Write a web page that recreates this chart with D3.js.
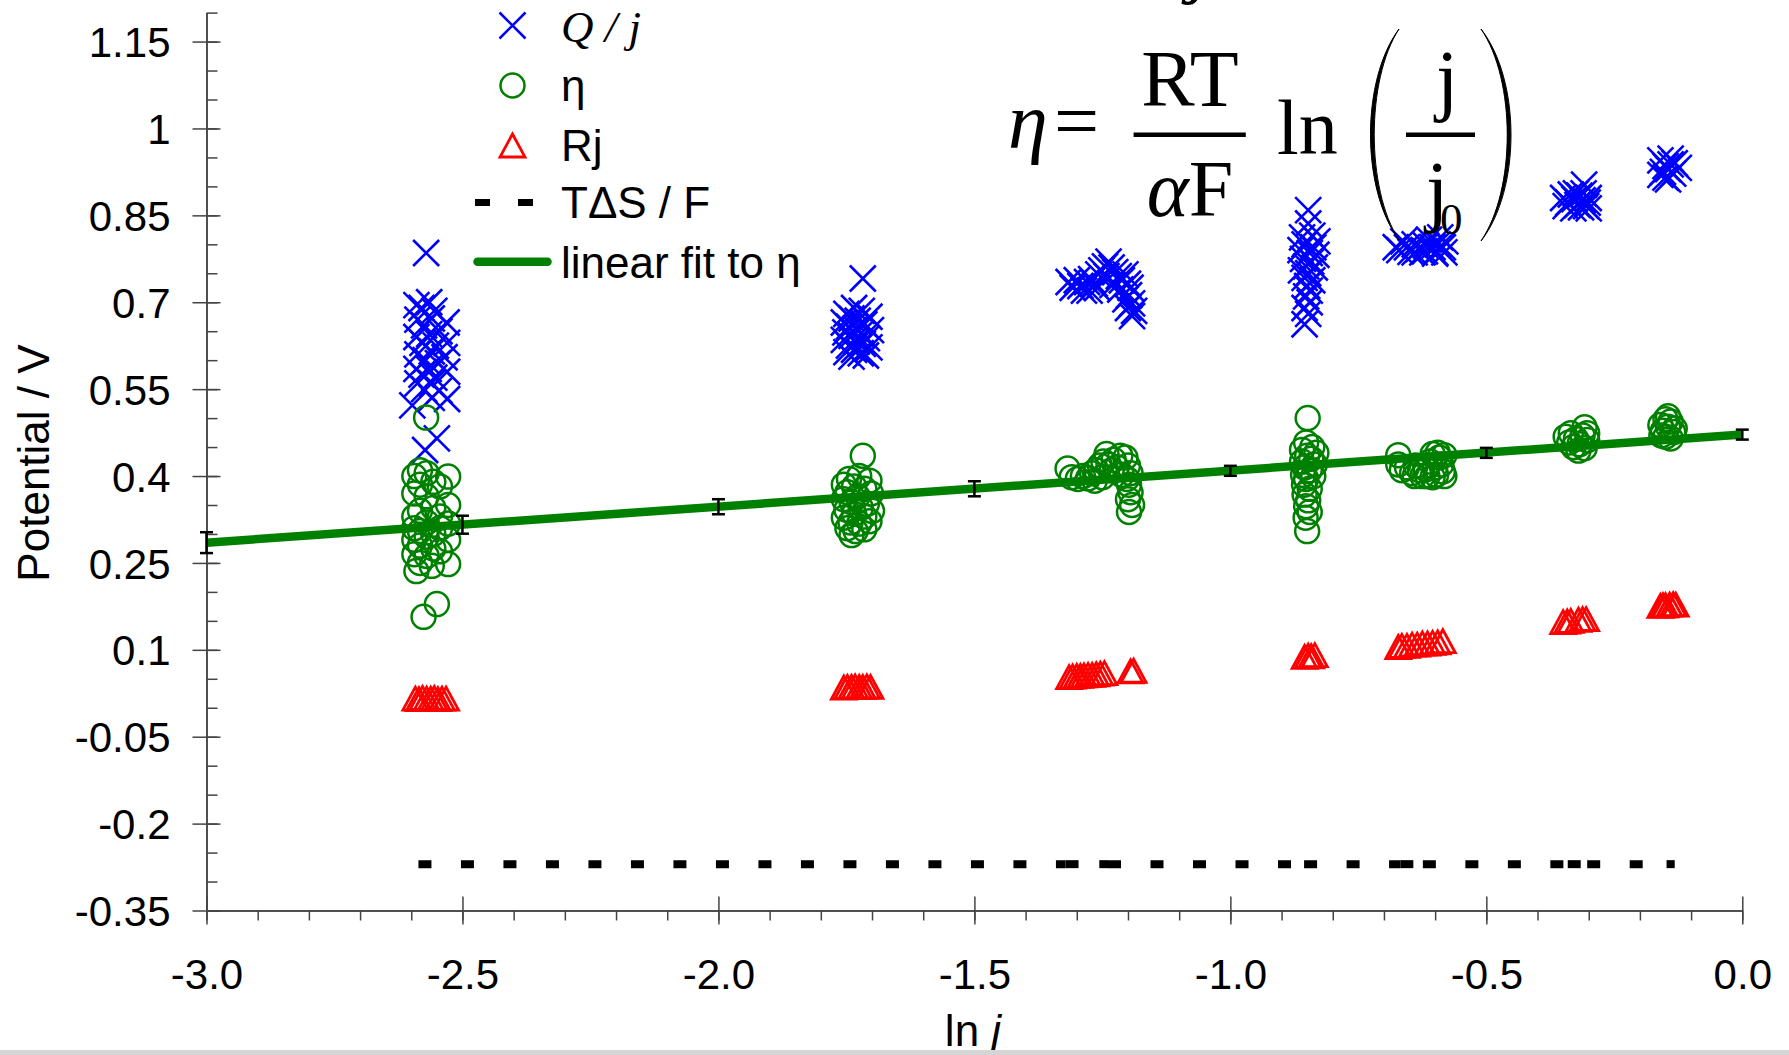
<!DOCTYPE html>
<html>
<head>
<meta charset="utf-8">
<script src="https://d3js.org/d3.v7.min.js"></script>
<style>
    body { margin: 0; background: #fff; }
    svg { display: block; }
    .axis text { font-family: 'Liberation Sans', Arial, sans-serif; font-size: 42px; fill: #000; }
    .axis line, .axis path { stroke: #444; stroke-width: 1.5; }
    .lbl { font-family: 'Liberation Sans', Arial, sans-serif; font-size: 44px; fill: #000; }
    .eq { font-family: 'Liberation Serif', 'Times New Roman', serif; fill: #000; }
</style>
</head>
<body>
<div id="chart"></div>
<script>
// ---- data ----
const xMajor = [-3, -2.5, -2, -1.5, -1, -0.5, 0];
const yMajor = [-0.35, -0.2, -0.05, 0.1, 0.25, 0.4, 0.55, 0.7, 0.85, 1, 1.15];

// Q / j  (blue crosses)
const qjPoints = [
    [-2.571,0.785],[-2.590,0.695],[-2.580,0.690],[-2.565,0.700],[-2.555,0.685],[-2.531,0.665],
    [-2.588,0.670],[-2.575,0.660],[-2.560,0.672],[-2.545,0.650],
    [-2.590,0.640],[-2.578,0.630],[-2.565,0.645],[-2.552,0.625],[-2.530,0.630],
    [-2.588,0.610],[-2.572,0.600],[-2.560,0.615],[-2.548,0.595],[-2.535,0.605],
    [-2.590,0.585],[-2.580,0.575],[-2.566,0.585],[-2.555,0.570],[-2.530,0.580],
    [-2.588,0.560],[-2.575,0.550],[-2.560,0.560],[-2.545,0.548],
    [-2.598,0.522],[-2.560,0.535],[-2.530,0.533],[-2.550,0.465],[-2.573,0.445],

    [-1.718,0.741],[-1.735,0.690],[-1.720,0.685],[-1.750,0.680],[-1.705,0.675],[-1.740,0.672],
    [-1.728,0.668],[-1.755,0.665],[-1.715,0.662],[-1.745,0.658],[-1.732,0.655],[-1.702,0.652],
    [-1.752,0.648],[-1.722,0.646],[-1.740,0.642],[-1.710,0.638],[-1.755,0.635],[-1.730,0.632],
    [-1.718,0.628],[-1.745,0.625],[-1.705,0.622],[-1.735,0.618],[-1.750,0.614],[-1.722,0.612],
    [-1.740,0.606],[-1.712,0.608],

    [-1.316,0.735],[-1.308,0.725],[-1.300,0.738],[-1.293,0.728],[-1.286,0.720],[-1.280,0.735],
    [-1.272,0.740],[-1.265,0.732],[-1.258,0.748],[-1.252,0.755],[-1.245,0.762],[-1.238,0.770],
    [-1.242,0.745],[-1.232,0.760],[-1.225,0.752],[-1.218,0.745],[-1.212,0.738],[-1.205,0.748],
    [-1.200,0.732],[-1.215,0.722],[-1.195,0.725],[-1.198,0.712],[-1.205,0.705],[-1.192,0.698],
    [-1.200,0.690],[-1.188,0.685],[-1.192,0.676],[-1.260,0.725],[-1.275,0.720],[-1.230,0.730],

    [-0.848,0.859],[-0.848,0.836],[-0.860,0.812],[-0.840,0.815],[-0.830,0.805],[-0.855,0.800],
    [-0.838,0.795],[-0.863,0.790],[-0.845,0.785],[-0.832,0.782],[-0.858,0.775],[-0.842,0.770],
    [-0.852,0.762],[-0.835,0.760],[-0.862,0.755],[-0.848,0.750],[-0.855,0.742],[-0.840,0.738],
    [-0.850,0.728],[-0.845,0.720],[-0.852,0.710],[-0.845,0.700],[-0.855,0.690],[-0.848,0.680],
    [-0.855,0.662],

    [-0.677,0.795],[-0.670,0.790],[-0.662,0.805],[-0.655,0.795],[-0.648,0.787],[-0.640,0.800],
    [-0.632,0.792],[-0.625,0.786],[-0.618,0.798],[-0.612,0.808],[-0.605,0.795],[-0.600,0.786],
    [-0.595,0.800],[-0.590,0.812],[-0.585,0.795],[-0.582,0.786],[-0.580,0.805],[-0.640,0.786],
    [-0.620,0.788],[-0.600,0.784],

    [-0.309,0.903],[-0.350,0.880],[-0.340,0.872],[-0.335,0.886],[-0.328,0.878],[-0.322,0.868],
    [-0.318,0.884],[-0.312,0.876],[-0.305,0.866],[-0.300,0.880],[-0.302,0.872],[-0.345,0.866],
    [-0.330,0.862],[-0.315,0.864],[-0.300,0.862],[-0.325,0.888],[-0.310,0.888],

    [-0.160,0.945],[-0.150,0.935],[-0.140,0.948],[-0.155,0.925],[-0.145,0.930],[-0.135,0.922],
    [-0.150,0.915],[-0.140,0.938],[-0.132,0.940],[-0.160,0.920],[-0.124,0.932],[-0.145,0.912]
];

// η  (green circles)
const etaPoints = [
    [-2.571,0.501],[-2.583,0.410],[-2.570,0.405],[-2.594,0.400],[-2.528,0.399],[-2.557,0.390],
    [-2.583,0.385],[-2.544,0.382],[-2.594,0.370],[-2.570,0.365],[-2.528,0.350],[-2.557,0.345],
    [-2.583,0.340],[-2.594,0.330],[-2.544,0.330],[-2.570,0.320],[-2.528,0.318],[-2.594,0.310],
    [-2.583,0.305],[-2.557,0.300],[-2.544,0.310],[-2.570,0.295],[-2.594,0.290],[-2.528,0.290],
    [-2.583,0.280],[-2.557,0.275],[-2.544,0.270],[-2.594,0.265],[-2.570,0.262],[-2.583,0.250],
    [-2.528,0.248],[-2.560,0.245],[-2.590,0.236],[-2.550,0.179],[-2.576,0.157],

    [-1.718,0.435],[-1.745,0.395],[-1.725,0.400],[-1.705,0.392],[-1.755,0.385],[-1.735,0.382],
    [-1.715,0.378],[-1.748,0.372],[-1.702,0.370],[-1.728,0.365],[-1.755,0.360],[-1.740,0.355],
    [-1.710,0.352],[-1.722,0.345],[-1.750,0.342],[-1.700,0.340],[-1.735,0.335],[-1.715,0.330],
    [-1.755,0.328],[-1.742,0.320],[-1.725,0.318],[-1.705,0.322],[-1.748,0.310],[-1.732,0.305],
    [-1.715,0.308],[-1.740,0.298],

    [-1.318,0.413],[-1.310,0.398],[-1.298,0.395],[-1.288,0.400],[-1.278,0.396],[-1.270,0.405],
    [-1.262,0.410],[-1.255,0.418],[-1.248,0.425],[-1.242,0.438],[-1.238,0.420],[-1.232,0.410],
    [-1.228,0.428],[-1.222,0.415],[-1.212,0.402],[-1.205,0.432],[-1.200,0.418],[-1.195,0.405],
    [-1.202,0.395],[-1.198,0.385],[-1.195,0.372],[-1.200,0.360],[-1.192,0.350],[-1.198,0.338],
    [-1.250,0.398],[-1.265,0.392],[-1.215,0.435],

    [-0.849,0.500],[-0.852,0.458],[-0.840,0.450],[-0.860,0.445],[-0.832,0.440],[-0.850,0.435],
    [-0.842,0.430],[-0.860,0.425],[-0.835,0.420],[-0.855,0.415],[-0.845,0.410],[-0.858,0.402],
    [-0.838,0.400],[-0.852,0.395],[-0.856,0.385],[-0.845,0.378],[-0.855,0.368],[-0.848,0.358],
    [-0.852,0.348],[-0.845,0.338],[-0.853,0.328],[-0.850,0.305],

    [-0.672,0.436],[-0.672,0.420],[-0.665,0.410],[-0.655,0.415],[-0.645,0.405],[-0.638,0.418],
    [-0.630,0.410],[-0.625,0.400],[-0.618,0.412],[-0.610,0.425],[-0.605,0.438],[-0.600,0.415],
    [-0.598,0.402],[-0.592,0.432],[-0.588,0.420],[-0.585,0.408],[-0.582,0.400],[-0.595,0.440],
    [-0.582,0.436],[-0.615,0.400],[-0.640,0.400],[-0.605,0.398],

    [-0.345,0.468],[-0.338,0.458],[-0.330,0.450],[-0.335,0.474],[-0.325,0.464],[-0.318,0.455],
    [-0.312,0.470],[-0.308,0.484],[-0.303,0.462],[-0.308,0.448],[-0.303,0.474],[-0.320,0.444],

    [-0.160,0.488],[-0.150,0.498],[-0.140,0.494],[-0.155,0.478],[-0.145,0.485],[-0.135,0.476],
    [-0.150,0.468],[-0.140,0.465],[-0.132,0.482],[-0.158,0.470],[-0.145,0.503]
];

// Rj  (red triangles)
const rjPoints = [
    [-2.592,0.015],[-2.585,0.014],[-2.578,0.016],[-2.570,0.015],[-2.562,0.015],[-2.555,0.016],
    [-2.548,0.014],[-2.540,0.015],[-2.532,0.015],
    [-1.755,0.034],[-1.748,0.035],[-1.740,0.035],[-1.733,0.036],[-1.725,0.035],[-1.718,0.035],
    [-1.710,0.036],[-1.703,0.035],
    [-1.315,0.052],[-1.308,0.053],[-1.300,0.054],[-1.293,0.054],[-1.286,0.055],[-1.278,0.056],
    [-1.270,0.056],[-1.262,0.057],[-1.254,0.058],[-1.246,0.059],[-1.195,0.062],[-1.189,0.063],
    [-0.855,0.087],[-0.848,0.089],[-0.842,0.088],[-0.835,0.090],
    [-0.672,0.104],[-0.665,0.106],[-0.655,0.106],[-0.645,0.108],[-0.635,0.108],[-0.625,0.110],
    [-0.615,0.110],[-0.605,0.111],[-0.595,0.112],[-0.585,0.114],
    [-0.350,0.147],[-0.342,0.148],[-0.335,0.149],[-0.320,0.151],[-0.312,0.152],[-0.305,0.152],
    [-0.160,0.175],[-0.155,0.176],[-0.150,0.176],[-0.142,0.177],[-0.135,0.178],[-0.130,0.177]
];

// TΔS / F  (dashed line; the dash pattern restarts at every data point)
const tdsX = [-2.586, -1.322, -1.256, -1.239, -0.856, -0.668, -0.624, -0.341, -0.303, -0.148, -0.132];
const tdsY = [-0.27, -0.27, -0.27, -0.27, -0.27, -0.27, -0.27, -0.27, -0.27, -0.27, -0.27];

// linear fit to η, with error bars
const fitX = [-3, 0];
const fitY = [0.285, 0.4715];
const errX = [-3, -2.5, -2, -1.5, -1, -0.5, 0];
const errY = [0.285, 0.316, 0.347, 0.378, 0.409, 0.440, 0.4715];
const errH = [0.018, 0.0155, 0.013, 0.013, 0.0086, 0.0086, 0.0086];

// ---- chart ----
const width = 1789, height = 1055;
const blue = "#0000ff", green = "#008000", red = "#ff0000";

const svg = d3.select("#chart").append("svg")
    .attr("width", width)
    .attr("height", height);

svg.append("rect").attr("width", width).attr("height", height).attr("fill", "#fff");

const x = d3.scaleLinear().domain([-3, 0]).range([206.5, 1742.3]);
const y = d3.scaleLinear().domain([-0.35, 1.2]).range([910.5, 12.6]);

const xMinor = d3.range(-30, 1).map(i => i / 10);
const yMinor = d3.range(-7, 25).map(i => i / 20);

// x axis: minor ticks below, major ticks crossing
svg.append("g")
    .attr("class", "axis")
    .attr("transform", `translate(0,${y(-0.35)})`)
    .call(d3.axisBottom(x).tickValues(xMinor).tickSize(10).tickSizeOuter(0).tickFormat(""));

const gx = svg.append("g")
    .attr("class", "axis")
    .attr("transform", `translate(0,${y(-0.35)})`)
    .call(d3.axisBottom(x).tickValues(xMajor).tickSize(14).tickSizeOuter(0).tickFormat(d => d.toFixed(1)));
gx.selectAll(".tick line").attr("y1", -14);
gx.selectAll(".tick text").attr("y", 78.5).attr("dy", 0);

// y axis: minor ticks inside, major ticks crossing
svg.append("g")
    .attr("class", "axis")
    .attr("transform", `translate(${x(-3)},0)`)
    .call(d3.axisRight(y).tickValues(yMinor).tickSize(11).tickSizeOuter(0).tickFormat(""));

const gy = svg.append("g")
    .attr("class", "axis")
    .attr("transform", `translate(${x(-3)},0)`)
    .call(d3.axisLeft(y).tickValues(yMajor).tickSize(14).tickSizeOuter(0).tickFormat(d => String(+d.toFixed(2))));
gy.selectAll(".tick line").attr("x1", 14);
gy.selectAll(".tick text").attr("x", -36).attr("dy", "0.36em");

// axis titles
svg.append("text")
    .attr("class", "lbl")
    .attr("transform", "translate(49,463) rotate(-90)")
    .attr("text-anchor", "middle")
    .text("Potential / V");

const xt = svg.append("text")
    .attr("class", "lbl")
    .attr("x", 973)
    .attr("y", 1046)
    .attr("text-anchor", "middle");
xt.append("tspan").text("ln ");
xt.append("tspan").attr("font-style", "italic").text("j");

// markers
const crossPath = "M-13,-13L13,13M-13,13L13,-13";
const triPath = "M0,-12L12.5,11L-12.5,11Z";

svg.append("g")
    .selectAll("path")
    .data(qjPoints)
    .join("path")
    .attr("d", crossPath)
    .attr("transform", d => `translate(${x(d[0])},${y(d[1])})`)
    .attr("fill", "none")
    .attr("stroke", blue)
    .attr("stroke-width", 2.6);

svg.append("g")
    .selectAll("circle")
    .data(etaPoints)
    .join("circle")
    .attr("cx", d => x(d[0]))
    .attr("cy", d => y(d[1]))
    .attr("r", 12)
    .attr("fill", "none")
    .attr("stroke", green)
    .attr("stroke-width", 2.5);

svg.append("g")
    .selectAll("path")
    .data(rjPoints)
    .join("path")
    .attr("d", triPath)
    .attr("transform", d => `translate(${x(d[0])},${y(d[1])})`)
    .attr("fill", "none")
    .attr("stroke", red)
    .attr("stroke-width", 2.8);

// TΔS / F, one path per segment so the dashes restart at each point
const tdsData = tdsX.map((v, i) => [v, tdsY[i]]);
svg.append("g")
    .selectAll("path")
    .data(d3.pairs(tdsData))
    .join("path")
    .attr("d", d => d3.line().x(p => x(p[0])).y(p => y(p[1]))(d))
    .attr("fill", "none")
    .attr("stroke", "#000")
    .attr("stroke-width", 8)
    .attr("stroke-dasharray", "13 29.5");

// linear fit
svg.append("path")
    .datum(fitX.map((v, i) => [v, fitY[i]]))
    .attr("d", d3.line().x(d => x(d[0])).y(d => y(d[1])))
    .attr("fill", "none")
    .attr("stroke", green)
    .attr("stroke-width", 8.5);

// error bars
const eb = svg.append("g")
    .selectAll("g")
    .data(errX.map((v, i) => ({ x: v, y: errY[i], e: errH[i] })))
    .join("g")
    .attr("stroke", "#000")
    .attr("stroke-width", 2.5);
eb.append("line")
    .attr("x1", d => x(d.x)).attr("x2", d => x(d.x))
    .attr("y1", d => y(d.y + d.e)).attr("y2", d => y(d.y - d.e));
eb.append("line")
    .attr("x1", d => x(d.x) - 6.5).attr("x2", d => x(d.x) + 6.5)
    .attr("y1", d => y(d.y + d.e)).attr("y2", d => y(d.y + d.e));
eb.append("line")
    .attr("x1", d => x(d.x) - 6.5).attr("x2", d => x(d.x) + 6.5)
    .attr("y1", d => y(d.y - d.e)).attr("y2", d => y(d.y - d.e));

// legend
const lg = svg.append("g");
const symX = 512.5, txtX = 561;
const rowY = [25.5, 85.5, 146, 202.5, 261.7];

lg.append("path").attr("d", crossPath)
    .attr("transform", `translate(${symX},${rowY[0]})`)
    .attr("fill", "none").attr("stroke", blue).attr("stroke-width", 2.6);
lg.append("text").attr("class", "eq")
    .attr("x", txtX).attr("y", rowY[0] + 16)
    .attr("font-size", 45).attr("font-style", "italic")
    .attr("xml:space", "preserve")
    .text("Q / j");

lg.append("circle").attr("cx", symX).attr("cy", rowY[1]).attr("r", 12)
    .attr("fill", "none").attr("stroke", green).attr("stroke-width", 2.5);
lg.append("text").attr("class", "lbl").attr("x", txtX).attr("y", rowY[1] + 15).text("η");

lg.append("path").attr("d", triPath)
    .attr("transform", `translate(${symX},${rowY[2]})`)
    .attr("fill", "none").attr("stroke", red).attr("stroke-width", 2.8);
lg.append("text").attr("class", "lbl").attr("x", txtX).attr("y", rowY[2] + 15).text("Rj");

lg.append("line")
    .attr("x1", 475).attr("x2", 533).attr("y1", rowY[3]).attr("y2", rowY[3])
    .attr("stroke", "#000").attr("stroke-width", 7).attr("stroke-dasharray", "15 28");
lg.append("text").attr("class", "lbl").attr("x", txtX).attr("y", rowY[3] + 15).text("TΔS / F");

lg.append("line")
    .attr("x1", 477.5).attr("x2", 547.5).attr("y1", rowY[4]).attr("y2", rowY[4])
    .attr("stroke", green).attr("stroke-width", 8.5).attr("stroke-linecap", "round");
lg.append("text").attr("class", "lbl").attr("x", txtX).attr("y", rowY[4] + 16).text("linear fit to η");

// equation annotation
const eq = svg.append("g").attr("class", "eq");
eq.append("text").attr("x", 1190).attr("y", -12).attr("font-size", 80)
    .attr("font-style", "italic").text("j");
eq.append("text").attr("x", 1008).attr("y", 148).attr("font-size", 80)
    .attr("font-style", "italic").text("η");
eq.append("text").attr("x", 1054).attr("y", 148).attr("font-size", 80).text("=");
eq.append("text").attr("x", 1190).attr("y", 106.4).attr("font-size", 80)
    .attr("text-anchor", "middle").text("RT");
eq.append("line").attr("x1", 1133.6).attr("x2", 1245.8).attr("y1", 134.8).attr("y2", 134.8)
    .attr("stroke", "#000").attr("stroke-width", 4.5);
const af = eq.append("text").attr("x", 1190).attr("y", 216).attr("font-size", 80)
    .attr("text-anchor", "middle");
af.append("tspan").attr("font-style", "italic").text("α");
af.append("tspan").text("F");
eq.append("text").attr("x", 1277).attr("y", 154.3).attr("font-size", 78).text("ln");
eq.append("path")
    .attr("d", "M1399,29C1361,80 1361,189 1399,240C1366,189 1366,80 1399,29Z")
    .attr("fill", "#000").attr("stroke", "#000").attr("stroke-width", 1);
eq.append("path")
    .attr("d", "M1481,29C1521,80 1521,190 1481,241C1516,190 1516,80 1481,29Z")
    .attr("fill", "#000").attr("stroke", "#000").attr("stroke-width", 1);
eq.append("text").attr("x", 1436).attr("y", 106.4).attr("font-size", 80).text("j");
eq.append("line").attr("x1", 1406).attr("x2", 1475).attr("y1", 134.8).attr("y2", 134.8)
    .attr("stroke", "#000").attr("stroke-width", 4.5);
eq.append("text").attr("x", 1426).attr("y", 217).attr("font-size", 80).text("j");
eq.append("text").attr("x", 1440).attr("y", 234).attr("font-size", 45).text("0");

// grey strip along the bottom edge
svg.append("rect").attr("x", 0).attr("y", 1050).attr("width", width).attr("height", 5)
    .attr("fill", "#d5d5d5");
</script>
</body>
</html>
